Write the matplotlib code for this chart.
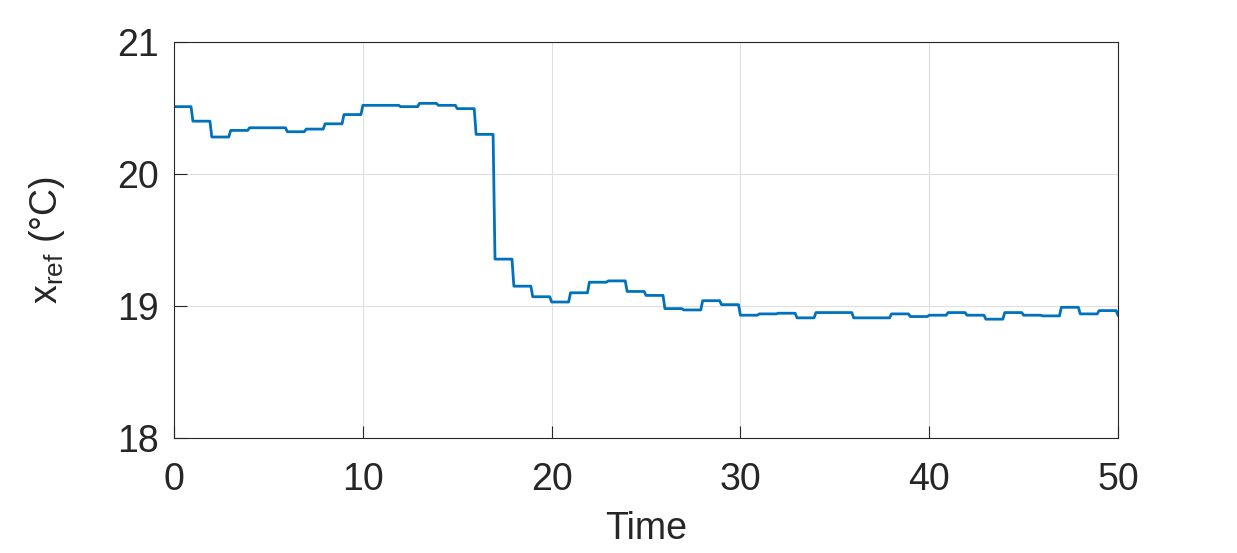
import matplotlib
matplotlib.use("Agg")
import matplotlib.pyplot as plt
import numpy as np

# reference level held over each unit interval [k, k+1), last entry is the value at t = 50
levels = [
    20.51, 20.40, 20.28, 20.33, 20.35, 20.35, 20.32, 20.34, 20.38, 20.45,
    20.52, 20.52, 20.51, 20.535, 20.52, 20.495, 20.30, 19.355, 19.15, 19.07,
    19.03, 19.10, 19.18, 19.19, 19.11, 19.08, 18.98, 18.97, 19.04, 19.01,
    18.93, 18.94, 18.945, 18.91, 18.95, 18.95, 18.91, 18.91, 18.94, 18.92,
    18.93, 18.95, 18.93, 18.90, 18.95, 18.93, 18.925, 18.99, 18.94, 18.965,
    18.93,
]
dt = 0.1
x_ticks = [0, 10, 20, 30, 40, 50]
y_ticks = [18, 19, 20, 21]

# sampled signal, held constant between unit steps
t = np.round(np.arange(0, 50 + dt / 2, dt), 6)
x_ref = np.array(levels)[np.floor(t + 1e-9).astype(int)]

plt.rcParams["font.family"] = ["Liberation Sans", "DejaVu Sans"]
plt.rcParams["mathtext.fontset"] = "custom"
plt.rcParams["mathtext.rm"] = "Liberation Sans"

dark = "#262626"
fig = plt.figure(figsize=(12.37, 5.53), dpi=100)
ax = fig.add_axes([0.1407, 0.2080, 0.7631, 0.7161])

ax.plot(t, x_ref, color="#0072BD", lw=2.0)

ax.set_xlim(0, 50)
ax.set_ylim(18, 21)
ax.set_xticks(x_ticks)
ax.set_yticks(y_ticks)
ax.grid(True, color="#DFDFDF", lw=0.8)
ax.set_axisbelow(True)
ax.tick_params(direction="in", length=9, width=0.8, colors=dark,
               labelsize=27, top=False, right=False)
ax.tick_params(axis="y", pad=11)
ax.tick_params(axis="x", pad=17)
for s in ax.spines.values():
    s.set_color(dark)
    s.set_linewidth(0.8)

ax.set_xlabel("Time", fontsize=27, color=dark, labelpad=10)
ax.set_ylabel(r"x$_{\mathrm{ref}}$ (°C)", fontsize=27, color=dark, labelpad=36)

fig.savefig("out.png", dpi=100)
